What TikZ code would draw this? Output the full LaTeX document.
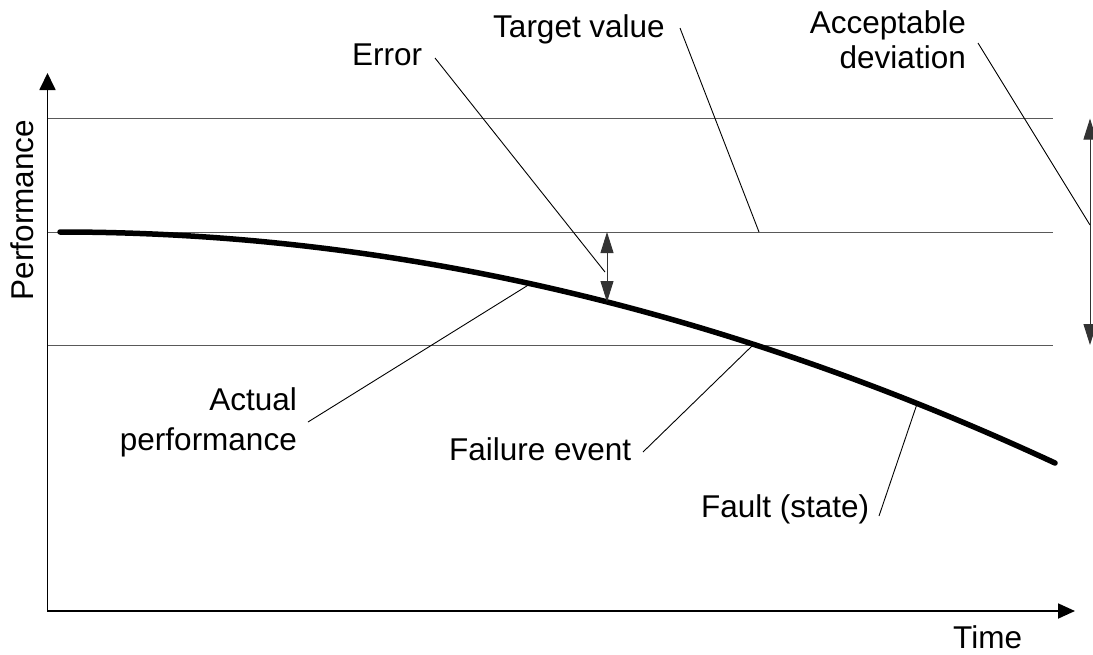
\documentclass[tikz,border=0pt]{standalone}
\usepackage{fontspec}
\setmainfont{Liberation Sans}
\usetikzlibrary{arrows.meta}
\begin{document}
\begin{tikzpicture}[x=1pt,y=-1pt,
  lbl/.style={inner sep=0pt, font=\fontsize{31.5}{36}\selectfont},
  axis/.style={line width=1.8pt, line join=miter,
    {Triangle[length=17pt,width=16pt]}-{Triangle[length=17pt,width=15pt]}},
  level/.style={line width=1pt, black!65},
  leader/.style={line width=0.9pt},
  span/.style={line width=1pt, black!80,
    {Triangle[length=21pt,width=13pt]}-{Triangle[length=21pt,width=13pt]}},
  perf/.style={line width=5.5pt, line cap=round}]
\useasboundingbox (0,0) rectangle (1093,654);

% axes
\coordinate (ytop) at (47.5,73);
\coordinate (origin) at (47.5,611);
\coordinate (xend) at (1075,611);
\draw[axis] (ytop) -- (origin) -- (xend);

% reference levels: upper limit, target value, lower limit
\coordinate (upL) at (47.5,118.5);  \coordinate (upR) at (1053,118.5);
\coordinate (tgL) at (47.5,232);    \coordinate (tgR) at (1053,232);
\coordinate (loL) at (47.5,345);    \coordinate (loR) at (1053,345);
\draw[level] (upL) -- (upR);
\draw[level] (tgL) -- (tgR);
\draw[level] (loL) -- (loR);

% actual performance curve
\coordinate (p0) at (60,232);
\coordinate (p1) at (391.7,232);
\coordinate (p2) at (723.3,309.2);
\coordinate (p3) at (1055,463);
\draw[perf] (p0) .. controls (p1) and (p2) .. (p3);

% error span and acceptable deviation span
\coordinate (errTop) at (607,232);
\coordinate (errBot) at (607,302);
\draw[span] (errTop) -- (errBot);
\coordinate (devTop) at (1090,118.5);
\coordinate (devBot) at (1090,345);
\draw[span] (devTop) -- (devBot);

% labels
\node[lbl, rotate=90, anchor=base] (perfAxis) at (33,210) {Performance};
\node[lbl, anchor=base west] (time) at (953,648) {Time};
\node[lbl, anchor=base west] (error) at (352,65) {Error};
\node[lbl, anchor=base west] (target) at (493,37) {Target value};
\node[lbl, anchor=base east] (accA) at (966,33) {Acceptable};
\node[lbl, anchor=base east] (accB) at (966,68) {deviation};
\node[lbl, anchor=base east] (actA) at (297,410) {Actual};
\node[lbl, anchor=base east] (actB) at (297,450) {performance};
\node[lbl, anchor=base west] (failure) at (449,460) {Failure event};
\node[lbl, anchor=base west] (fault) at (701,517) {Fault (state)};

% leader lines
\coordinate (errA) at (435,58);   \coordinate (errB) at (605,272);
\coordinate (tgA) at (680,28);    \coordinate (tgB) at (759,232);
\coordinate (accL) at (978,43);   \coordinate (accR) at (1090,225);
\coordinate (actL) at (308,422);  \coordinate (actR) at (530,284);
\coordinate (failL) at (643,452); \coordinate (failR) at (753,345);
\coordinate (faultL) at (879,516); \coordinate (faultR) at (917,404);
\draw[leader] (errA) -- (errB);
\draw[leader] (tgA) -- (tgB);
\draw[leader] (accL) -- (accR);
\draw[leader] (actL) -- (actR);
\draw[leader] (failL) -- (failR);
\draw[leader] (faultL) -- (faultR);
\end{tikzpicture}
\end{document}
